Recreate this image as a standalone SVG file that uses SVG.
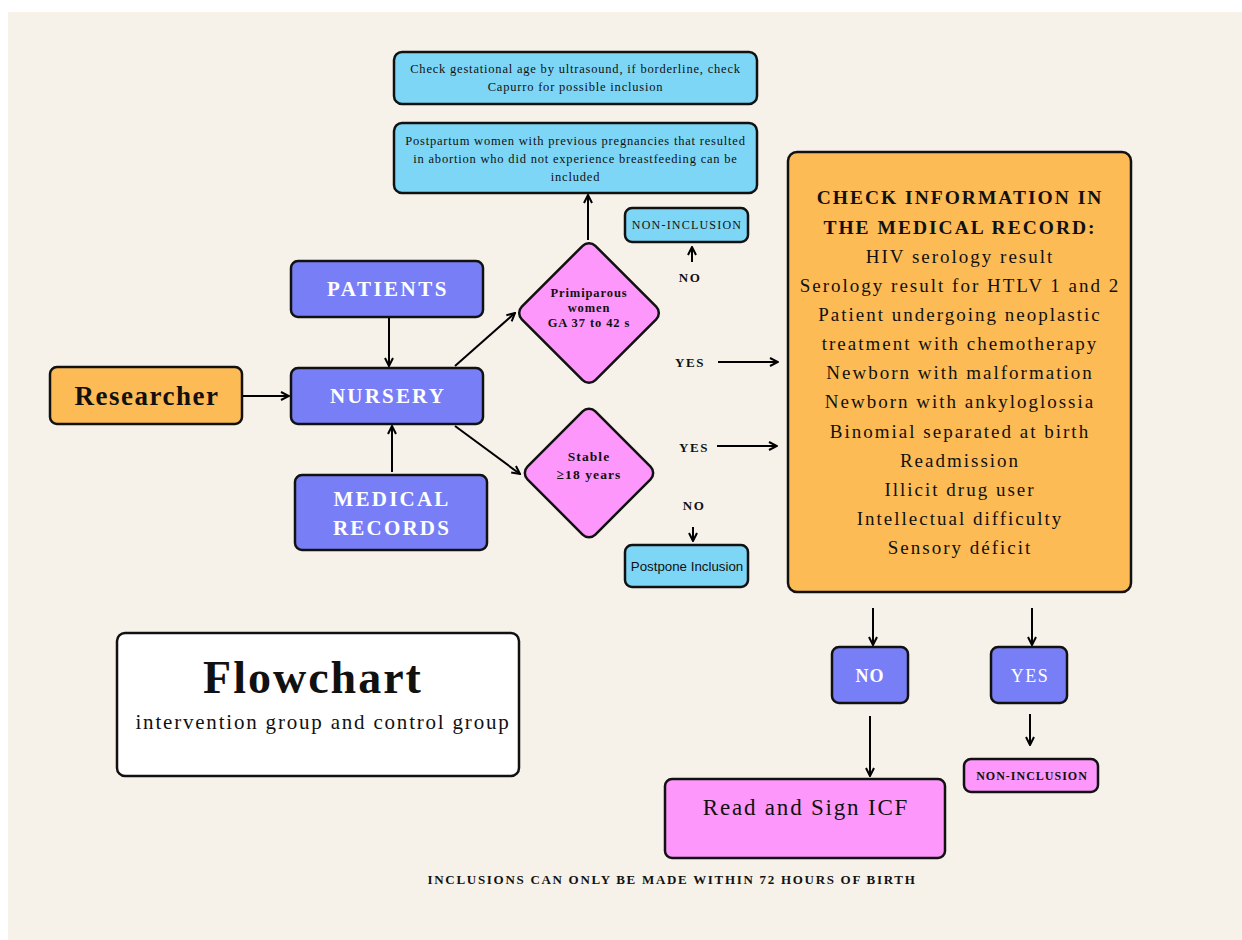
<svg xmlns="http://www.w3.org/2000/svg" width="1242" height="940" viewBox="0 0 1242 940">
<defs>
<marker id="ah" viewBox="0 0 10 10" refX="9" refY="5" markerWidth="10" markerHeight="10" markerUnits="userSpaceOnUse" orient="auto">
<path d="M1,1 L9,5 L1,9" fill="none" stroke="#000" stroke-width="2"/>
</marker>
<style>
.bx{stroke:#111;stroke-width:2.5}
.blue{fill:#7DD6F5}
.purple{fill:#787FF6}
.orange{fill:#FDBB55}
.pink{fill:#FD97FB}
.white{fill:#FFFFFF}
.s{font-family:"Liberation Serif","Times New Roman",serif;fill:#111}
.b{font-weight:bold}
.w{fill:#FFFFFF}
.c{text-anchor:middle}
.ln{stroke:#000;stroke-width:2;fill:none;marker-end:url(#ah)}
</style>
</defs>
<rect x="0" y="0" width="1242" height="940" fill="#FFFFFF"/>
<rect x="8" y="12" width="1234" height="928" fill="#F6F2EA"/>

<g id="n-gest">
<rect class="bx blue" x="394" y="52" width="363" height="52" rx="8"/>
<text class="s c" font-size="12.5" letter-spacing="0.8" x="575.5" y="73">Check gestational age by ultrasound, if borderline, check</text>
<text class="s c" font-size="12.5" letter-spacing="0.8" x="575.5" y="91">Capurro for possible inclusion</text>
</g>
<g id="n-postpartum">
<rect class="bx blue" x="394" y="123" width="363" height="70" rx="8"/>
<text class="s c" font-size="12.5" letter-spacing="0.8" x="575.5" y="145">Postpartum women with previous pregnancies that resulted</text>
<text class="s c" font-size="12.5" letter-spacing="0.8" x="575.5" y="163">in abortion who did not experience breastfeeding can be</text>
<text class="s c" font-size="12.5" letter-spacing="0.8" x="575.5" y="181">included</text>
</g>
<g id="n-noninc1">
<rect class="bx blue" x="625" y="208" width="123" height="34" rx="7"/>
<text class="s c" font-size="12" letter-spacing="1.2" x="687" y="229">NON-INCLUSION</text>
</g>
<g id="n-patients">
<rect class="bx purple" x="291" y="261" width="192" height="56" rx="7"/>
<text class="s b c w" font-size="21" letter-spacing="2.5" x="388" y="296">PATIENTS</text>
</g>
<g id="n-nursery">
<rect class="bx purple" x="291" y="368" width="192" height="56" rx="7"/>
<text class="s b c w" font-size="21" letter-spacing="2.2" x="388" y="403">NURSERY</text>
</g>
<g id="n-researcher">
<rect class="bx orange" x="50" y="367" width="192" height="57" rx="7"/>
<text class="s b c" font-size="27" letter-spacing="1.5" x="147" y="405">Researcher</text>
</g>
<g id="n-medical">
<rect class="bx purple" x="295" y="475" width="192" height="75" rx="7"/>
<text class="s b c w" font-size="21" letter-spacing="2.2" x="392" y="506">MEDICAL</text>
<text class="s b c w" font-size="21" letter-spacing="2.2" x="392" y="535">RECORDS</text>
</g>
<g id="n-primiparous">
<rect class="bx pink" x="537" y="261" width="104" height="104" rx="9" transform="rotate(45 589 313)"/>
<text class="s b c" font-size="12.5" letter-spacing="0.9" x="589" y="297">Primiparous</text>
<text class="s b c" font-size="12.5" letter-spacing="0.9" x="589" y="312">women</text>
<text class="s b c" font-size="12.5" letter-spacing="0.9" x="589" y="327">GA 37 to 42 s</text>
</g>
<g id="n-stable">
<rect class="bx pink" x="541" y="425" width="96" height="96" rx="9" transform="rotate(45 589 473)"/>
<text class="s b c" font-size="13.5" letter-spacing="1.1" x="589" y="461">Stable</text>
<text class="s b c" font-size="13.5" letter-spacing="1.1" x="589" y="479">≥18 years</text>
</g>
<g id="n-postpone">
<rect class="bx blue" x="625" y="545" width="123" height="42" rx="7"/>
<text class="c" font-family="'Liberation Sans',Arial,sans-serif" font-size="13.3" fill="#111" x="687" y="571">Postpone Inclusion</text>
</g>
<g id="n-check">
<rect class="bx orange" x="788" y="152" width="343" height="440" rx="9"/>
<g class="s c" font-size="19" letter-spacing="2">
<text class="b" font-size="19.5" letter-spacing="2" x="960" y="204">CHECK INFORMATION IN</text>
<text class="b" font-size="19.5" letter-spacing="2" x="960" y="234">THE MEDICAL RECORD:</text>
<text x="960" y="263">HIV serology result</text>
<text x="960" y="292">Serology result for HTLV 1 and 2</text>
<text x="960" y="321">Patient undergoing neoplastic</text>
<text x="960" y="350">treatment with chemotherapy</text>
<text x="960" y="379">Newborn with malformation</text>
<text x="960" y="408">Newborn with ankyloglossia</text>
<text x="960" y="438">Binomial separated at birth</text>
<text x="960" y="467">Readmission</text>
<text x="960" y="496">Illicit drug user</text>
<text x="960" y="525">Intellectual difficulty</text>
<text x="960" y="554">Sensory déficit</text>
</g>
</g>
<g id="n-no">
<rect class="bx purple" x="832" y="647" width="76" height="56" rx="7"/>
<text class="s b c w" font-size="18" letter-spacing="1" x="870" y="682">NO</text>
</g>
<g id="n-yes">
<rect class="bx purple" x="991" y="647" width="76" height="56" rx="7"/>
<text class="s c w" font-size="18" letter-spacing="1.5" x="1030" y="682">YES</text>
</g>
<g id="n-noninc2">
<rect class="bx pink" x="964" y="759" width="134" height="33" rx="7"/>
<text class="s b c" font-size="12" letter-spacing="1" x="1032" y="780">NON-INCLUSION</text>
</g>
<g id="n-icf">
<rect class="bx pink" x="665" y="779" width="280" height="79" rx="7"/>
<text class="s c" font-size="23" letter-spacing="1.8" x="806" y="815">Read and Sign ICF</text>
</g>
<g id="n-title">
<rect class="bx white" x="117" y="633" width="402" height="143" rx="8"/>
<text class="s b c" font-size="46" letter-spacing="2" x="313" y="693">Flowchart</text>
<text class="s c" font-size="21" letter-spacing="1.8" x="323" y="729">intervention group and control group</text>
</g>

<g id="labels" class="s b c" font-size="13" letter-spacing="1.5">
<text x="690" y="282">NO</text>
<text x="690" y="367">YES</text>
<text x="694" y="452">YES</text>
<text x="694" y="510">NO</text>
</g>
<text class="s b c" font-size="13" letter-spacing="1.7" x="672" y="884">INCLUSIONS CAN ONLY BE MADE WITHIN 72 HOURS OF BIRTH</text>

<g id="connectors">
<line class="ln" x1="389" y1="318" x2="389" y2="366"/>
<line class="ln" x1="392" y1="472" x2="392" y2="426"/>
<line class="ln" x1="243" y1="396" x2="289" y2="396"/>
<line class="ln" x1="455" y1="366" x2="515" y2="313"/>
<line class="ln" x1="455" y1="426" x2="520" y2="474"/>
<line class="ln" x1="588" y1="240" x2="588" y2="195"/>
<line class="ln" x1="692" y1="262" x2="692" y2="247"/>
<line class="ln" x1="718" y1="362" x2="778" y2="362"/>
<line class="ln" x1="717" y1="446" x2="777" y2="446"/>
<line class="ln" x1="693" y1="527" x2="693" y2="541"/>
<line class="ln" x1="873" y1="608" x2="873" y2="645"/>
<line class="ln" x1="1032" y1="608" x2="1032" y2="645"/>
<line class="ln" x1="870" y1="716" x2="870" y2="776"/>
<line class="ln" x1="1030" y1="714" x2="1030" y2="745"/>
</g>
</svg>
